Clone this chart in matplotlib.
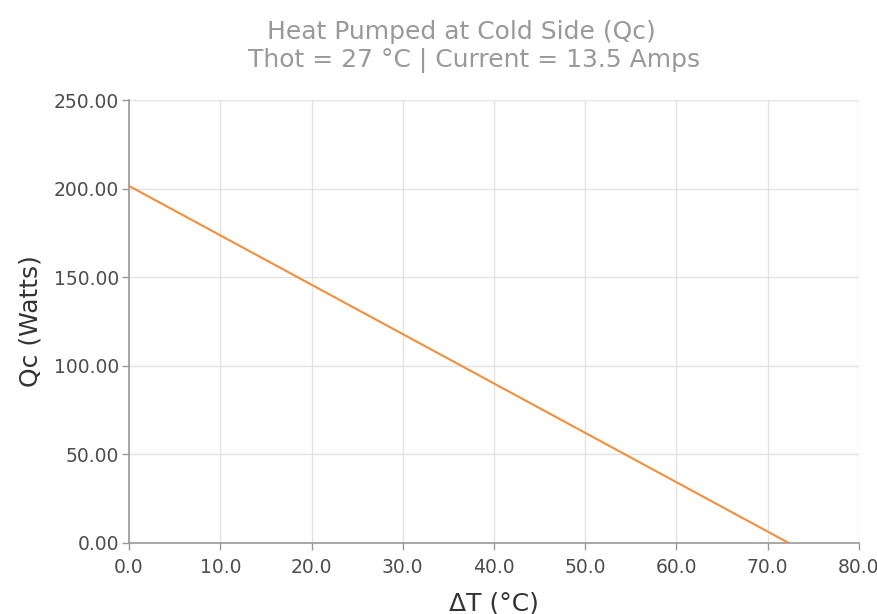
import matplotlib
matplotlib.use("Agg")
import matplotlib.pyplot as plt
import numpy as np

delta_t = [0.0, 72.3]
qc_watts = [201.5, 0.0]
x_ticks = [0, 10, 20, 30, 40, 50, 60, 70, 80]
y_ticks = [0, 50, 100, 150, 200, 250]
title_line1 = "Heat Pumped at Cold Side (Qc)"
title_line2 = "Thot = 27 °C | Current = 13.5 Amps"

W, H = 877, 614
fig = plt.figure(figsize=(W / 100, H / 100), dpi=100)
ax = fig.add_axes([129 / W, 1 - 543 / H, (859 - 129) / W, (543 - 100) / H])

ax.plot(delta_t, qc_watts, color="#f28e3c", linewidth=1.5, zorder=3)

ax.set_xlim(0, 80)
ax.set_ylim(0, 250)
ax.set_xticks(x_ticks)
ax.set_yticks(y_ticks)
ax.set_xticklabels([f"{v:.1f}" for v in x_ticks])
ax.set_yticklabels([f"{v:.2f}" for v in y_ticks])

ax.grid(True, color="#e3e3e3", linewidth=1.0, zorder=0)
for s in ["top", "right"]:
    ax.spines[s].set_visible(False)
for s in ["left", "bottom"]:
    ax.spines[s].set_color("#999999")
    ax.spines[s].set_linewidth(1.2)
ax.tick_params(axis="both", colors="#999999", length=5, width=1, labelsize=13.5,
               labelcolor="#4d4d4d", pad=2)
ax.tick_params(axis="x", pad=6)

ax.set_xlabel("ΔT (°C)", fontsize=18, color="#333333")
ax.xaxis.set_label_coords(0.5, -(603 - 543) / (543 - 100), transform=ax.transAxes)
ax.xaxis.label.set_va("center")
ax.set_ylabel("Qc (Watts)", fontsize=18, color="#333333")
ax.yaxis.set_label_coords(-(129 - 30) / (859 - 129), 0.5, transform=ax.transAxes)
ax.yaxis.label.set_va("center")

fig.text(461 / W, 1 - 39 / H, title_line1, fontsize=18, color="#999999",
         ha="center", va="baseline")
fig.text(474 / W, 1 - 67 / H, title_line2, fontsize=18, color="#999999",
         ha="center", va="baseline")

fig.savefig("out.png", dpi=100)
